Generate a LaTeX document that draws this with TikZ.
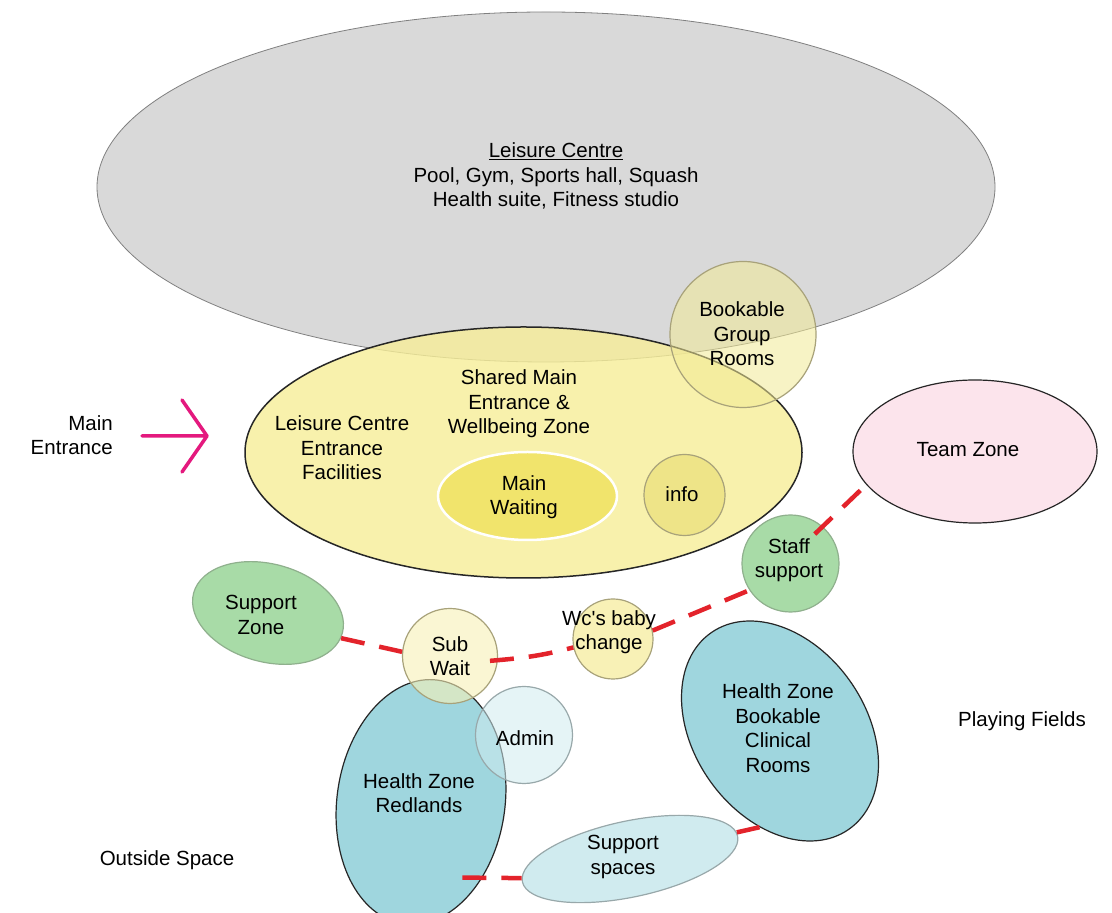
\documentclass[tikz,border=0pt]{standalone}
\usepackage{fontspec}
\setmainfont{Liberation Sans}
\usetikzlibrary{shapes.geometric}
\definecolor{greyfill}{HTML}{D9D9D9}
\definecolor{greyline}{HTML}{808080}
\definecolor{yelfill}{HTML}{F7EE98}
\definecolor{darkline}{HTML}{262626}
\definecolor{bookfill}{HTML}{F2EA96}
\definecolor{oliveline}{HTML}{A8A27A}
\definecolor{waitfill}{HTML}{F1E46C}
\definecolor{infofill}{HTML}{EEE488}
\definecolor{pinkfill}{HTML}{FCE4EC}
\definecolor{greenfill}{HTML}{A8DBA7}
\definecolor{greenline}{HTML}{8FB08D}
\definecolor{palefill}{HTML}{F8F1B6}
\definecolor{tealfill}{HTML}{9FD6DE}
\definecolor{lightteal}{HTML}{D0EBEF}
\definecolor{tealline}{HTML}{98A8AA}
\definecolor{conred}{HTML}{E3232B}
\definecolor{magentaarrow}{HTML}{E4197E}
\begin{document}
\begin{tikzpicture}[x=1pt,y=1pt,
 zone/.style={ellipse, inner sep=0pt, line width=1.2pt},
 disc/.style={circle, inner sep=0pt, line width=1.2pt},
 lbl/.style={font=\fontsize{20.5}{24.5}\selectfont, align=center, inner sep=0pt},
 conn/.style={draw=conred, line width=4.5pt, dash pattern=on 24pt off 15pt}]
\useasboundingbox (0,0) rectangle (1112,913);
\fill[white] (0,0) rectangle (1112,913);

\node[zone, draw=greyline, line width=0.8pt, fill=greyfill, minimum width=898pt, minimum height=350pt] (lc) at (546,726) {};
\node[zone, draw=darkline, line width=1.5pt, fill=yelfill, fill opacity=0.8, minimum width=557pt, minimum height=251pt] (sme) at (523.5,460.5) {};
\node[disc, draw=oliveline, fill=bookfill, fill opacity=0.55, minimum size=146pt] (bgr) at (743,578.5) {};
\node[zone, draw=white, line width=2.5pt, fill=waitfill, minimum width=179pt, minimum height=88pt] (mw) at (527.5,417) {};
\node[disc, draw=oliveline, fill=infofill, minimum size=81pt] (inf) at (684.5,418) {};
\node[zone, draw=darkline, fill=pinkfill, minimum width=244pt, minimum height=143pt] (tz) at (975,461.5) {};
\node[disc, draw=greenline, fill=greenfill, minimum size=97pt] (ss) at (790.5,349.5) {};
\node[zone, draw=greenline, fill=greenfill, minimum width=154pt, minimum height=98pt, rotate=-15] (sz) at (268,300) {};
\node[disc, draw=oliveline, fill=palefill, minimum size=80pt] (wc) at (613,274) {};
\node[zone, draw=darkline, fill=tealfill, minimum width=168pt, minimum height=246pt, rotate=-8] (hzr) at (421,111) {};
\node[zone, draw=darkline, fill=tealfill, minimum width=172pt, minimum height=240pt, rotate=35] (hzc) at (780,182) {};
\node[zone, draw=tealline, fill=lightteal, minimum width=220pt, minimum height=76pt, rotate=12] (sps) at (630,54) {};
\node[disc, draw=oliveline, fill=palefill, fill opacity=0.6, minimum size=95pt] (sw) at (450,257) {};
\node[disc, draw=tealline, fill=lightteal, fill opacity=0.55, minimum size=97pt] (adm) at (524,178) {};

\draw[conn] (sz.-4) -- (sw.175);
\draw[conn, shorten <=-8pt] (sw.-5) to[bend right=5] (wc.192);
\draw[conn] (wc.12) -- (ss.213);
\draw[conn, shorten <=-11pt] (ss.49) -- (tz.197);
\draw[conn, shorten <=-20pt] (hzr.-43) -- (sps.178);
\draw[conn, solid] (sps.2) -- (hzc.223);

\coordinate (aTail) at (142,477);
\coordinate (aTip) at (207,477);
\coordinate (aUp) at (182,513);
\coordinate (aDn) at (182,441);
\draw[magentaarrow, line width=3.5pt, line cap=round, line join=round] (aTail) -- (aTip) (aUp) -- (aTip) -- (aDn);

\node[lbl] (lct) at (556,737) {\underline{Leisure Centre}\\Pool, Gym, Sports hall, Squash\\Health suite, Fitness studio};
\node[lbl] (bgrt) at (742,579) {Bookable\\Group\\Rooms};
\node[lbl] (smet) at (519,509) {Shared Main\\Entrance \&\\Wellbeing Zone};
\node[lbl] (lcef) at (342,465) {Leisure Centre\\Entrance\\Facilities};
\node[lbl] (mwt) at (524,416) {Main\\Waiting};
\node[lbl] (inft) at (682,419) {info};
\node[lbl, anchor=east, align=right] (met) at (113,478) {Main\\Entrance};
\node[lbl] (tzt) at (968,463) {Team Zone};
\node[lbl] (sst) at (789,353) {Staff\\support};
\node[lbl] (szt) at (261,298) {Support\\Zone};
\node[lbl] (swt) at (450,257) {Sub\\Wait};
\node[lbl] (wct) at (609,281) {Wc\textquotesingle s baby\\change};
\node[lbl] (admt) at (525,175) {Admin};
\node[lbl] (hzct) at (778,185) {Health Zone\\Bookable\\Clinical\\Rooms};
\node[lbl] (hzrt) at (419,120) {Health Zone\\Redlands};
\node[lbl] (spst) at (623,56) {Support\\spaces};
\node[lbl] (pft) at (1022,192) {Playing Fields};
\node[lbl] (ost) at (167,53) {Outside Space};
\end{tikzpicture}
\end{document}
